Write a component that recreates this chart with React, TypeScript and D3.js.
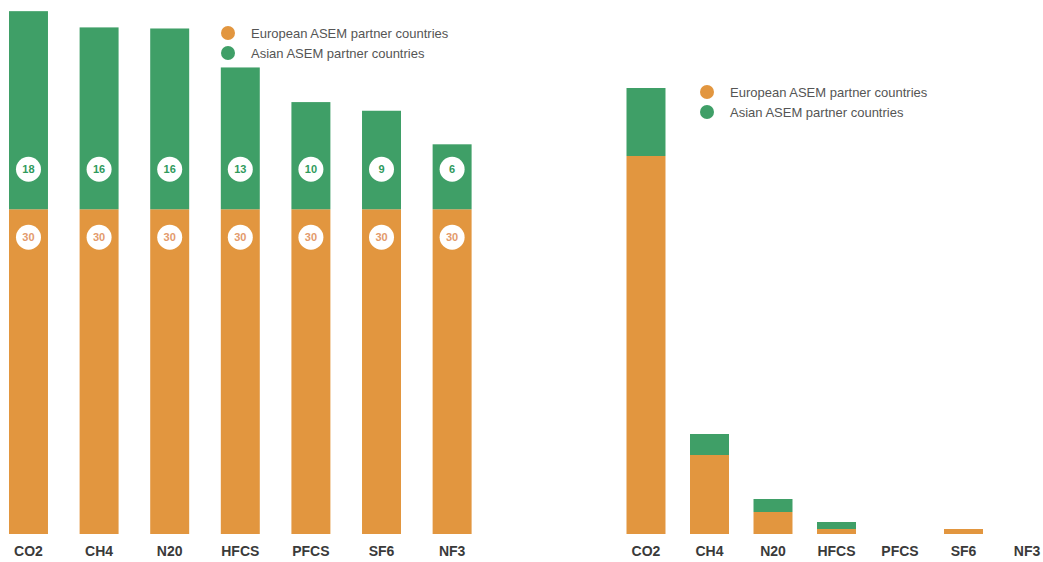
import React from "react";
import * as d3 from "d3";

const categories = ["CO2", "CH4", "N20", "HFCS", "PFCS", "SF6", "NF3"];

// Left chart: number of partner countries
const leftEuropean = [30, 30, 30, 30, 30, 30, 30];
const leftAsian = [18.3, 16.8, 16.7, 13.1, 9.9, 9.1, 6.0];
const leftEuropeanLabels = ["30", "30", "30", "30", "30", "30", "30"];
const leftAsianLabels = ["18", "16", "16", "13", "10", "9", "6"];

// Right chart: emissions share (relative units)
const rightEuropean = [378, 79, 22, 5, 0, 5, 0];
const rightAsian = [68, 21, 13, 7, 0, 0, 0];

const legendLabels = ["European ASEM partner countries", "Asian ASEM partner countries"];

const ORANGE = "#e2963f";
const GREEN = "#3f9f67";
const BASE = 534;

export default function App() {
  const xL = d3.scaleBand<string>().domain(categories).range([9, 471.6]).paddingInner(0.448).paddingOuter(0);
  const yL = d3.scaleLinear().domain([0, 48.5]).range([BASE, 9]);

  const xR = d3.scaleBand<string>().domain(categories).range([626.5, 1046.5]).paddingInner(0.386).paddingOuter(0);
  const yR = d3.scaleLinear().domain([0, 450]).range([BASE, 84]);

  const font = "'Liberation Sans', Arial, sans-serif";

  const legend = (x: number, y: number) => (
    <g>
      {legendLabels.map((t, i) => (
        <g key={t}>
          <circle cx={x} cy={y + i * 20} r={7} fill={i === 0 ? ORANGE : GREEN} />
          <text x={x + 23} y={y + i * 20} dy="0.35em" fontSize={13} fill="#555" fontFamily={font}>
            {t}
          </text>
        </g>
      ))}
    </g>
  );

  return (
    <svg width={1043} height={562} style={{ position: "absolute", left: 0, top: 0, background: "#fff" }}>
      {/* Left chart */}
      {categories.map((c, i) => {
        const x = xL(c)!;
        const w = xL.bandwidth();
        const eTop = yL(leftEuropean[i]);
        const aTop = yL(leftEuropean[i] + leftAsian[i]);
        const cx = x + w / 2;
        return (
          <g key={"L" + c}>
            <rect x={x} y={eTop} width={w} height={BASE - eTop} fill={ORANGE} />
            <rect x={x} y={aTop} width={w} height={eTop - aTop} fill={GREEN} />
            <circle cx={cx} cy={eTop - 40} r={12.5} fill="#fff" />
            <text x={cx} y={eTop - 40} dy="0.36em" textAnchor="middle" fontSize={11} fontWeight="bold" fill="#2f9a5c" fontFamily={font}>
              {leftAsianLabels[i]}
            </text>
            <circle cx={cx} cy={eTop + 28} r={12.5} fill="#fff" />
            <text x={cx} y={eTop + 28} dy="0.36em" textAnchor="middle" fontSize={11} fontWeight="bold" fill="#e39a6c" fontFamily={font}>
              {leftEuropeanLabels[i]}
            </text>
            <text x={cx} y={551} dy="0.35em" textAnchor="middle" fontSize={14} fontWeight="bold" fill="#3a3a3a" fontFamily={font}>
              {c}
            </text>
          </g>
        );
      })}
      {legend(228, 33)}

      {/* Right chart */}
      {categories.map((c, i) => {
        const x = xR(c)!;
        const w = xR.bandwidth();
        const eTop = yR(rightEuropean[i]);
        const aTop = yR(rightEuropean[i] + rightAsian[i]);
        const cx = x + w / 2;
        return (
          <g key={"R" + c}>
            {rightEuropean[i] > 0 && <rect x={x} y={eTop} width={w} height={BASE - eTop} fill={ORANGE} />}
            {rightAsian[i] > 0 && <rect x={x} y={aTop} width={w} height={eTop - aTop} fill={GREEN} />}
            <text x={cx} y={551} dy="0.35em" textAnchor="middle" fontSize={14} fontWeight="bold" fill="#3a3a3a" fontFamily={font}>
              {c}
            </text>
          </g>
        );
      })}
      {legend(707, 92)}
    </svg>
  );
}
